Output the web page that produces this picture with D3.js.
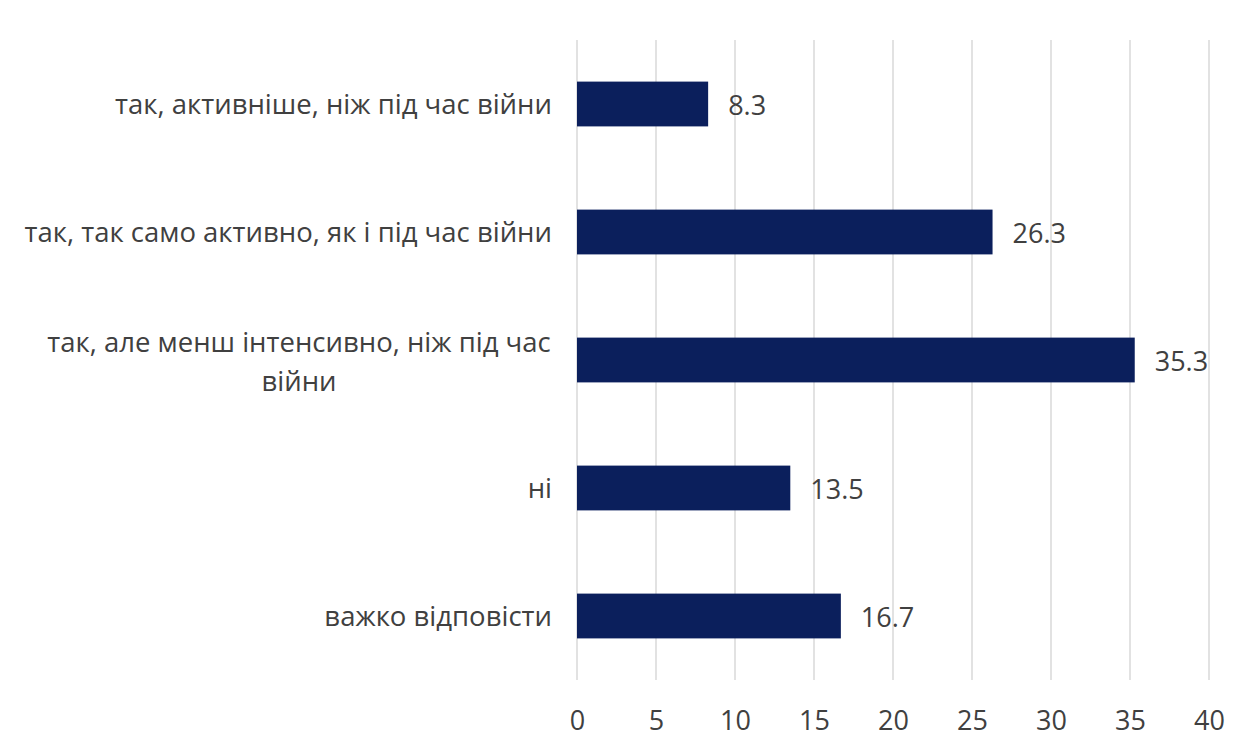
<!DOCTYPE html>
<html><head><meta charset="utf-8">
<script src="https://cdn.jsdelivr.net/npm/d3@7"></script>
<style>html,body{margin:0;padding:0;background:#fff;}svg{display:block;}</style>
</head><body>
<script>
const categories = [
  "так, активніше, ніж під час війни",
  "так, так само активно, як і під час війни",
  "так, але менш інтенсивно, ніж під час|війни",
  "ні",
  "важко відповісти"
];
const values = [8.3, 26.3, 35.3, 13.5, 16.7];
const tickValues = [0, 5, 10, 15, 20, 25, 30, 35, 40];

const W = 1240, H = 738;
const svg = d3.select("body").append("svg").attr("width", W).attr("height", H);
const font = "'Open Sans', 'DejaVu Sans', sans-serif";
const textColor = "#404040";

const x = d3.scaleLinear().domain([0, 40]).range([577, 1209]);
const y = d3.scaleBand().domain(categories).range([40, 680]).paddingInner(0.65).paddingOuter(0.325);

// gridlines
svg.append("g").selectAll("line").data(tickValues).join("line")
  .attr("x1", d => x(d)).attr("x2", d => x(d))
  .attr("y1", 40).attr("y2", 680)
  .attr("stroke", "#d9d9d9").attr("stroke-width", 1.5);

// x axis tick labels
const xAxis = d3.axisBottom(x).tickValues(tickValues).tickSize(0).tickPadding(0);
const gx = svg.append("g").attr("transform", "translate(0,0)").call(xAxis);
gx.select(".domain").remove();
gx.selectAll("text").attr("font-family", font).attr("font-size", 27).attr("fill", textColor)
  .attr("y", 729.5).attr("dy", 0);

// bars
svg.append("g").selectAll("rect").data(values).join("rect")
  .attr("x", x(0))
  .attr("y", (d, i) => y(categories[i]))
  .attr("width", d => x(d) - x(0))
  .attr("height", y.bandwidth())
  .attr("fill", "#0b1f5c");

// value labels
svg.append("g").selectAll("text").data(values).join("text")
  .attr("x", d => x(d) + 20)
  .attr("y", (d, i) => y(categories[i]) + y.bandwidth() / 2 + 2)
  .attr("dy", "0.35em")
  .attr("font-family", font).attr("font-size", 27).attr("fill", textColor)
  .text(d => d.toFixed(1));

// category labels
const labG = svg.append("g");
categories.forEach(c => {
  const lines = c.split("|");
  const cy = y(c) + y.bandwidth() / 2;
  const lh = 39;
  const t = labG.append("text")
    .attr("font-family", font).attr("font-size", 27.5).attr("fill", textColor);
  if (lines.length === 1) {
    t.attr("x", 552).attr("y", cy).attr("dy", "0.35em").attr("text-anchor", "end").text(lines[0]);
  } else {
    lines.forEach((ln, k) => {
      t.append("tspan").attr("x", 299).attr("text-anchor", "middle")
        .attr("y", cy + 2 + (k - (lines.length - 1) / 2) * lh).attr("dy", "0.35em").text(ln);
    });
  }
});
</script>
</body></html>
